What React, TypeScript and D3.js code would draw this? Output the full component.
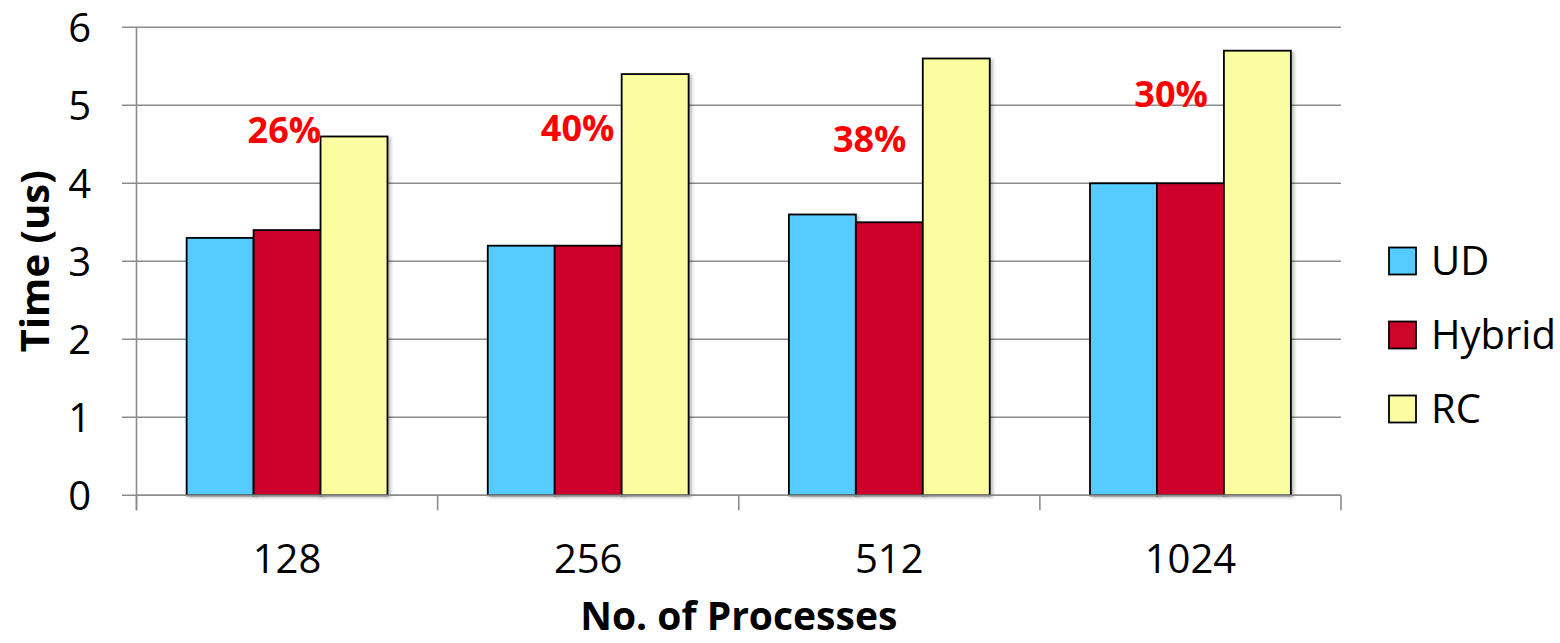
import React from "react";
import * as d3 from "d3";

const categories = ["128", "256", "512", "1024"];
const seriesNames = ["UD", "Hybrid", "RC"];
const udValues = [3.3, 3.2, 3.6, 4.0];
const hybridValues = [3.4, 3.2, 3.5, 4.0];
const rcValues = [4.6, 5.4, 5.6, 5.7];
const yTicks = [0, 1, 2, 3, 4, 5, 6];
const gainLabels = ["26%", "40%", "38%", "30%"];
// annotation anchor: value on the y axis where the label baseline sits
const gainLabelY = [4.52, 4.54, 4.4, 4.98];
// annotation anchor: horizontal offset of the label center as fraction of a category step
const gainLabelShift = [-0.009, -0.035, -0.065, -0.064];

const colors = ["#55CBFF", "#CC0529", "#FAFEA0"];
const FONT = "'Open Sans', 'DejaVu Sans', sans-serif";

export default function App() {
  const W = 1560;
  const H = 643;
  const left = 136.5;
  const right = 1341;
  const top = 27.3;
  const bottom = 495.3;

  const x = d3.scaleBand<string>().domain(categories).range([left, right]).paddingInner(0.333).paddingOuter(0.1665);
  const step = x.step();
  const xs = d3.scaleBand<string>().domain(seriesNames).range([0, x.bandwidth()]);
  const y = d3.scaleLinear().domain([0, 6]).range([bottom, top]);

  const series = [udValues, hybridValues, rcValues];
  const boundaries = d3.range(categories.length + 1).map((i) => left + i * step);

  return (
    <svg width={W} height={H} style={{ position: "absolute", left: 0, top: 0, background: "#fff" }}>
      <defs>
        <filter id="sh" x="-10%" y="-10%" width="130%" height="130%">
          <feDropShadow dx="2.5" dy="1.5" stdDeviation="1.5" floodColor="#000" floodOpacity="0.25" />
        </filter>
      </defs>
      {/* gridlines */}
      {yTicks.map((t) => (
        <line key={"g" + t} x1={122} x2={right} y1={y(t)} y2={y(t)} stroke="#8c8c8c" strokeWidth={1.6} />
      ))}
      {/* y axis */}
      <line x1={left} x2={left} y1={top} y2={bottom + 15} stroke="#8c8c8c" strokeWidth={1.6} />
      {/* x ticks */}
      {boundaries.map((bx, i) => (
        <line key={"xt" + i} x1={bx} x2={bx} y1={bottom} y2={bottom + 15} stroke="#8c8c8c" strokeWidth={1.6} />
      ))}
      {/* bars */}
      {categories.map((c, ci) => (
        <g key={c}>
          {seriesNames.map((s, si) => {
            const v = series[si][ci];
            const bx = (x(c) as number) + (xs(s) as number);
            return (
              <rect
                key={s}
                x={bx}
                y={y(v)}
                width={xs.bandwidth()}
                height={bottom - y(v)}
                fill={colors[si]}
                stroke="#000"
                strokeWidth={1.8}
                filter="url(#sh)"
              />
            );
          })}
        </g>
      ))}
      <line x1={left} x2={right} y1={bottom} y2={bottom} stroke="#8c8c8c" strokeWidth={1.6} />
      {/* gain labels */}
      {categories.map((c, ci) => (
        <text
          key={"lab" + c}
          x={(x(c) as number) + x.bandwidth() / 2 + gainLabelShift[ci] * step}
          y={y(gainLabelY[ci])}
          textAnchor="middle"
          fill="#FF0000"
          fontFamily={FONT}
          fontWeight="bold"
          fontSize={36}
        >
          {gainLabels[ci]}
        </text>
      ))}
      {/* y tick labels */}
      {yTicks.map((t) => (
        <text key={"yl" + t} x={91} y={y(t) + 14.5} textAnchor="end" fontFamily={FONT} fontSize={40} fill="#000">
          {t}
        </text>
      ))}
      {/* x tick labels */}
      {categories.map((c) => (
        <text
          key={"xl" + c}
          x={(x(c) as number) + x.bandwidth() / 2}
          y={573}
          textAnchor="middle"
          fontFamily={FONT}
          fontSize={40}
          fill="#000"
        >
          {c}
        </text>
      ))}
      {/* axis titles */}
      <text
        transform={`translate(49, ${(top + bottom) / 2}) rotate(-90)`}
        textAnchor="middle"
        fontFamily={FONT}
        fontWeight="bold"
        fontSize={40}
        fill="#000"
      >
        Time (us)
      </text>
      <text x={(left + right) / 2} y={630} textAnchor="middle" fontFamily={FONT} fontWeight="bold" fontSize={39} fill="#000">
        No. of Processes
      </text>
      {/* legend */}
      {seriesNames.map((s, i) => (
        <g key={"lg" + s} transform={`translate(1389, ${247.5 + i * 74})`}>
          <rect x={0} y={0} width={27} height={27} fill={colors[i]} stroke="#000" strokeWidth={1.8} />
          <text x={42} y={27.5} fontFamily={FONT} fontSize={40} fill="#000">
            {s}
          </text>
        </g>
      ))}
    </svg>
  );
}
